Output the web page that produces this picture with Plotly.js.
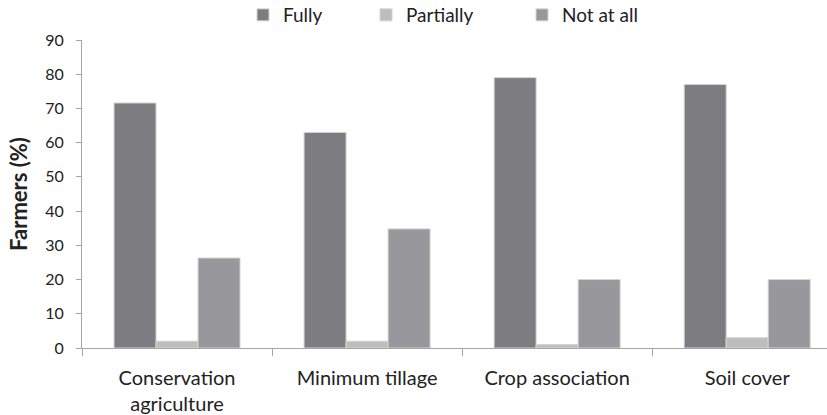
<!DOCTYPE html>
<html>
<head>
<meta charset="utf-8">
<script src="https://cdn.plot.ly/plotly-3.0.1.min.js"></script>
<style>html,body{margin:0;padding:0;background:#fff;}#chart{width:827px;height:415px;}</style>
</head>
<body>
<div id="chart"></div>
<script>
const categories = ["Conservation<br>agriculture", "Minimum tillage", "Crop association", "Soil cover"];
const fully = [71.6, 63.0, 79.0, 77.0];
const partially = [2.0, 2.0, 1.0, 3.0];
const notAtAll = [26.3, 34.8, 20.0, 20.0];
const yTicks = [0, 10, 20, 30, 40, 50, 60, 70, 80, 90];

const font = "Lato, 'Open Sans', sans-serif";
const border = {color: "#d4d4d4", width: 1};
const traces = [
  {type: "bar", name: "Fully", x: categories, y: fully, legend: "legend", marker: {color: "#7d7d81", line: border}},
  {type: "bar", name: "Partially", x: categories, y: partially, legend: "legend2", marker: {color: "#bdbdbd", line: border}},
  {type: "bar", name: "Not at all", x: categories, y: notAtAll, legend: "legend3", marker: {color: "#98989c", line: border}}
];
const L = 82, W = 745, T = 40, H = 308;
function legendAt(px) {
  return {orientation: "h", x: (px - L) / W, xanchor: "left", y: 1 + (T - 15) / H, yanchor: "middle",
          font: {family: font, size: 19, color: "#222"}, itemwidth: 30, bgcolor: "rgba(0,0,0,0)"};
}
const layout = {
  width: 827, height: 415,
  margin: {l: L, r: 0, t: T, b: 67, autoexpand: false},
  paper_bgcolor: "#fff", plot_bgcolor: "#fff",
  font: {family: font, size: 16, color: "#222"},
  barmode: "group", bargap: 0.337, bargroupgap: 0,
  showlegend: true,
  legend: legendAt(243),
  legend2: legendAt(366),
  legend3: legendAt(522),
  xaxis: {
    type: "category", range: [-0.5, 3.42],
    showline: true, linecolor: "#a6a6a6", linewidth: 1,
    ticks: "outside", ticklen: 7, tickcolor: "#a6a6a6", tickson: "boundaries",
    ticklabelstandoff: 12,
    showgrid: false, zeroline: false,
    tickfont: {family: font, size: 20, color: "#222"}
  },
  yaxis: {
    range: [0, 90], tickvals: yTicks, ticktext: yTicks.map(String),
    showline: true, linecolor: "#a6a6a6", linewidth: 1,
    ticks: "outside", ticklen: 5, tickcolor: "#a6a6a6",
    ticklabelstandoff: 9,
    showgrid: false, zeroline: false,
    tickfont: {family: font, size: 16, color: "#222"},
    title: {text: "<b>Farmers (%)</b>", font: {family: font, size: 22, color: "#222"}, standoff: 11}
  }
};
Plotly.newPlot("chart", traces, layout, {displayModeBar: false, staticPlot: true});
</script>
</body>
</html>
